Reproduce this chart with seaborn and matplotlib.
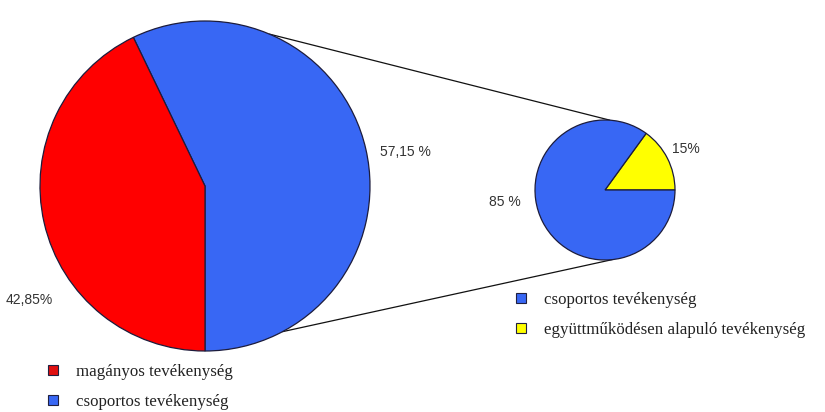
import numpy as np
import matplotlib
matplotlib.use("Agg")
import matplotlib.pyplot as plt
import seaborn as sns
from matplotlib.lines import Line2D

# data
main_labels = ['csoportos tevékenység', 'magányos tevékenység']
main_values = [57.15, 42.85]
main_texts = ['57,15 %', '42,85%']

sub_labels = ['együttműködésen alapuló tevékenység', 'csoportos tevékenység']
sub_values = [15, 85]
sub_texts = ['15%', '85 %']

blue = '#3867f4'
red = '#ff0000'
yellow = '#ffff00'

sns.set_theme(style='white')
plt.rcParams['font.family'] = ['Liberation Sans', 'DejaVu Sans']

W, H = 825, 412
fig = plt.figure(figsize=(W / 100, H / 100), dpi=100)
ax = fig.add_axes([0, 0, 1, 1])

# pixel layout (y measured from top in the picture)
big_c = (205, H - 186)
big_r = 165
small_c = (605, H - 190)
small_r = 70

edge = dict(edgecolor='#1c1c3c', linewidth=0.9)

ax.pie(main_values, colors=[blue, red], startangle=-90, counterclock=True,
       center=big_c, radius=big_r, wedgeprops=edge, frame=True)
ax.pie(sub_values, colors=[yellow, blue], startangle=0, counterclock=True,
       center=small_c, radius=small_r, wedgeprops=edge, frame=True)

# connector lines between the two pies
def on_circle(c, r, deg):
    a = np.deg2rad(deg)
    return c[0] + r * np.cos(a), c[1] + r * np.sin(a)

for a_big, a_small in [(67, 86), (-62, -84)]:
    p1 = on_circle(big_c, big_r, a_big)
    p2 = on_circle(small_c, small_r, a_small)
    ax.plot([p1[0], p2[0]], [p1[1], p2[1]], color='#111111', lw=0.9, zorder=0)

# percentage labels
lab = dict(fontsize=10, color='#333333', va='center', ha='left')
ax.text(380, H - 152, main_texts[0], **lab)
ax.text(6, H - 300, main_texts[1], **lab)
ax.text(672, H - 149, sub_texts[0], **lab)
ax.text(489, H - 202, sub_texts[1], **lab)

ax.set_xlim(0, W)
ax.set_ylim(0, H)
ax.set_aspect('auto')
ax.set_axis_off()

def handle(color):
    return Line2D([], [], marker='s', linestyle='none', markersize=6.5,
                  markerfacecolor=color, markeredgecolor='#202040',
                  markeredgewidth=0.8)

leg_kw = dict(frameon=False, handlelength=0.8, handletextpad=1.0,
              borderpad=0, borderaxespad=0, labelspacing=0.8,
              prop={'family': 'Liberation Serif', 'size': 12.2})

leg1 = ax.legend([handle('#e01010'), handle(blue)], [main_labels[1], main_labels[0]],
                 loc='upper left', bbox_to_anchor=(46 / W, 1 - 364 / H), labelcolor='#222222', **leg_kw)
ax.add_artist(leg1)
ax.legend([handle(blue), handle(yellow)], [sub_labels[1], sub_labels[0]],
          loc='upper left', bbox_to_anchor=(514 / W, 1 - 292 / H), labelcolor='#222222', **leg_kw)

fig.savefig('out.png', dpi=100, facecolor='white')
